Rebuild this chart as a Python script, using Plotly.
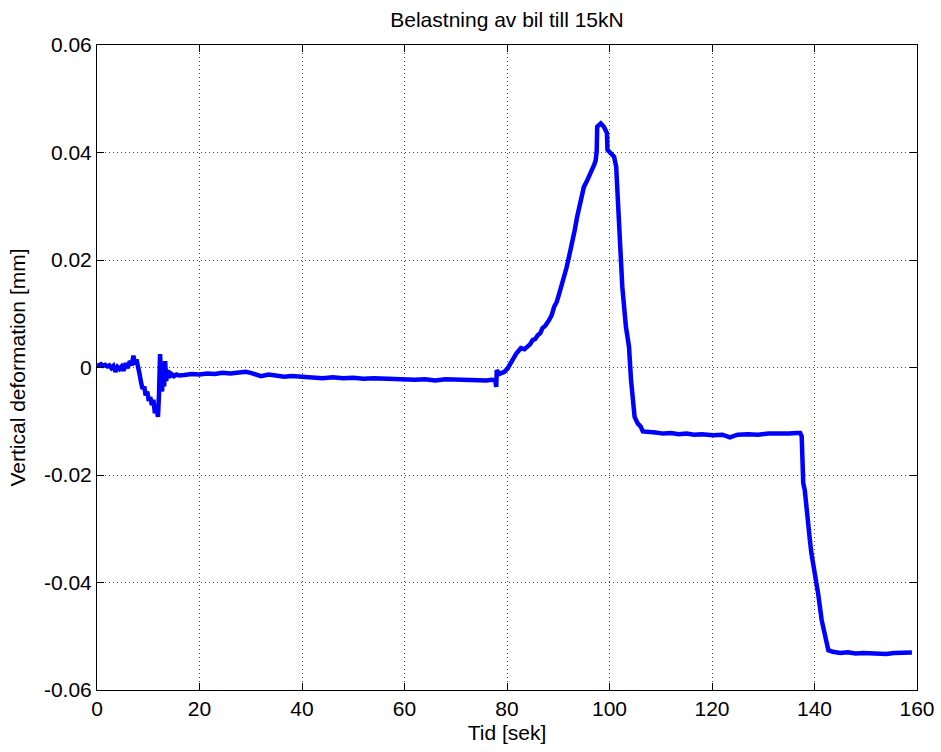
import plotly.graph_objects as go

# ---- data ----
time_s = [
    0.0, 0.4, 0.8, 1.2, 1.6, 2.0, 2.4, 2.8, 3.2, 3.6, 4.0, 4.4, 4.8, 5.2, 5.6, 6.0, 6.4, 6.8,
    7.1, 7.4, 7.7, 8.0, 8.3, 8.6, 8.9, 9.2, 9.5, 9.8, 10.1, 10.4, 10.7, 11.0, 11.3, 11.6, 11.9,
    12.1, 12.3, 12.5, 12.7, 12.9, 13.1, 13.3, 13.5, 13.8, 14.1, 14.5, 15.0, 15.5, 16.0,
    17, 18.5, 20, 21.5, 23, 24.5, 26, 27.5, 29, 30, 31, 32, 33.5, 35, 36.5, 38, 40, 42, 44,
    46, 48, 50, 52, 54, 56, 58, 60, 62, 64, 66, 68, 70, 72, 74, 76, 77, 77.5,
    77.7, 77.9, 78.0, 78.5, 79.5, 80.1, 80.8, 81.3, 81.8, 82.2, 82.7, 83.4, 84.0, 84.5, 85.0,
    85.5, 86.0, 86.5, 86.9, 87.5, 88.2, 88.7, 89.2, 89.7, 90.2, 90.6, 91.1, 91.6, 92.1, 92.4,
    92.8, 93.2, 93.7, 94.0, 94.4, 94.7, 95.0, 95.5, 96.0, 96.5, 97.0, 97.3, 97.5, 97.6, 98.3,
    98.9, 99.5, 99.6, 100.3, 100.9, 101.3, 101.6, 101.9, 102.2, 102.5, 103.2, 103.8, 104.2,
    104.6, 104.9, 105.5, 106.1, 106.5, 107.9, 109, 110.5, 112, 113.5, 115, 116.5, 118, 120.2,
    122, 123.5, 125, 127, 129, 131, 133, 135, 136.5, 137.2, 137.5, 137.7, 137.8, 138.1, 138.5,
    138.8, 139.1, 139.4, 140.1, 140.7, 141.4, 142.0, 142.7, 143.6, 145, 146.5, 148, 149.5, 151,
    152.5, 154, 155.5, 157, 158.2, 159.0,
]
deformation_mm = [
    0.0005, 0.0004, 0.0006, 0.0003, 0.0005, 0.0002, 0.0004, -0.0001, 0.0003, -0.0008, 0.0001,
    -0.0003, 0.0002, -0.0006, 0.0008, -0.0001, 0.0012, 0.0004, 0.0022, 0.0006, 0.0015, -0.0006,
    -0.0012, -0.0028, -0.0040, -0.0035, -0.0052, -0.0045, -0.0062, -0.0055, -0.0070, -0.0060,
    -0.0085, -0.0075, -0.0092, -0.0050, 0.0025, -0.0010, -0.0045, 0.0005, -0.0035, 0.0012,
    -0.0025, -0.0005, -0.0018, -0.0012, -0.0016, -0.0013, -0.0015,
    -0.0014, -0.0012, -0.0013, -0.0011, -0.0012, -0.0010, -0.0011, -0.0009, -0.0008, -0.0010,
    -0.0012, -0.0016, -0.0013, -0.0015, -0.0017, -0.0016, -0.0018, -0.0019, -0.0020, -0.0018,
    -0.0020, -0.0019, -0.0021, -0.0020, -0.0021, -0.0022, -0.0021, -0.0023, -0.0022, -0.0024,
    -0.0022, -0.0023, -0.0024, -0.0023, -0.0024, -0.0023, -0.0024,
    -0.0024, -0.0036, -0.0005, -0.0012, -0.0008, -0.0002, 0.0011, 0.0016, 0.0026, 0.0030,
    0.0036, 0.0034, 0.0039, 0.0043, 0.0051, 0.0053, 0.0060, 0.0064, 0.0073, 0.0078, 0.0088,
    0.0097, 0.0113, 0.0122, 0.0138, 0.0150, 0.0169, 0.0185, 0.0206, 0.0218, 0.0237, 0.0255,
    0.0281, 0.0293, 0.0312, 0.0322, 0.0336, 0.0345, 0.0355, 0.0363, 0.0377, 0.0385, 0.0402,
    0.0448, 0.0454, 0.0448, 0.0436, 0.0405, 0.0398, 0.0392, 0.0374, 0.0312, 0.0262, 0.0200,
    0.0150, 0.0076, 0.0039, -0.0023, -0.0060, -0.0092, -0.0104, -0.0110, -0.0119, -0.0119,
    -0.0121, -0.0123, -0.0122, -0.0124, -0.0123, -0.0125, -0.0124, -0.0126, -0.0125, -0.0130,
    -0.0125, -0.0124, -0.0125, -0.0123, -0.0124, -0.0123, -0.0122, -0.0122, -0.0128, -0.0178,
    -0.0215, -0.0228, -0.0259, -0.0290, -0.0321, -0.0346, -0.0380, -0.0420, -0.0470, -0.0501,
    -0.0526, -0.0529, -0.0531, -0.0530, -0.0532, -0.0531, -0.0532, -0.0531, -0.0533, -0.0531,
    -0.0530, -0.0531, -0.0530,
]

x_tick_vals = [0, 20, 40, 60, 80, 100, 120, 140, 160]
y_tick_vals = [-0.06, -0.04, -0.02, 0, 0.02, 0.04, 0.06]
y_tick_text = ["-0.06", "-0.04", "-0.02", "0", "0.02", "0.04", "0.06"]

title_text = "Belastning av bil till 15kN"
x_label = "Tid [sek]"
y_label = "Vertical deformation [mm]"

FONT = "Liberation Sans, Arial, Helvetica, sans-serif"
FS = 21

fig = go.Figure()
fig.add_trace(go.Scatter(
    x=time_s, y=deformation_mm, mode="lines",
    line=dict(color="rgb(0,0,255)", width=4.5),
    showlegend=False, hoverinfo="skip",
))

axis_common = dict(
    showline=True, linecolor="black", linewidth=1, mirror="allticks",
    ticks="inside", ticklen=7, tickcolor="black", tickwidth=1,
    showgrid=True, gridcolor="rgba(40,40,40,0.85)", griddash="1px,3px", gridwidth=1,
    zeroline=False, tickfont=dict(family=FONT, size=FS, color="black"),
    automargin=False,
)

fig.update_layout(
    width=941, height=752,
    margin=dict(l=97, r=24, t=45, b=62, autoexpand=False),
    paper_bgcolor="white", plot_bgcolor="white",
    font=dict(family=FONT, color="black"),
    title=dict(text=title_text, x=0.5, xref="paper", y=1 - 20 / 752, yref="container",
               yanchor="middle", xanchor="center", font=dict(family=FONT, size=FS)),
    xaxis=dict(range=[0, 160], tickvals=x_tick_vals,
               title=dict(text=x_label, font=dict(family=FONT, size=FS), standoff=6),
               **axis_common),
    yaxis=dict(range=[-0.06, 0.06], tickvals=y_tick_vals, ticktext=y_tick_text,
               title=dict(text=y_label, font=dict(family=FONT, size=FS), standoff=12),
               **axis_common),
)

fig.write_html(
    "out.html",
    config={"displayModeBar": False},
    post_script="document.body.style.margin='0';document.body.style.padding='0';",
)
